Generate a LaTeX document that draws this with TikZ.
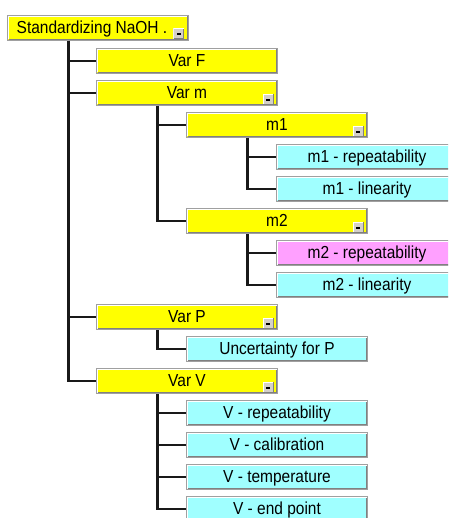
\documentclass[tikz,border=0pt]{standalone}
\usepackage{fontspec}
\setmainfont{Liberation Sans}[FakeStretch=0.89]
\usetikzlibrary{calc}

\definecolor{boxyellow}{RGB}{255,255,0}
\definecolor{boxcyan}{RGB}{160,255,255}
\definecolor{boxpink}{RGB}{255,160,255}
\definecolor{edgegray}{RGB}{160,160,160}
\definecolor{shadegray}{RGB}{128,128,128}
\definecolor{btnface}{RGB}{212,208,200}
\definecolor{linkcolor}{RGB}{25,25,25}

\begin{document}
\begin{tikzpicture}[x=1pt,y=-1pt,
  treebox/.style={draw=edgegray, line width=1pt, minimum width=181pt,
    minimum height=25pt, inner sep=0pt, text height=11pt, text depth=0pt,
    anchor=north west, font=\fontsize{17.4pt}{20pt}\selectfont,
    path picture={
      \draw[white, line width=1pt]
        ([shift={(1pt,1pt)}]path picture bounding box.south west) --
        ([shift={(1pt,-1pt)}]path picture bounding box.north west) --
        ([shift={(-1pt,-1pt)}]path picture bounding box.north east);
      \draw[shadegray, line width=1pt]
        ([shift={(1pt,1pt)}]path picture bounding box.south west) --
        ([shift={(-1pt,1pt)}]path picture bounding box.south east) --
        ([shift={(-1pt,-1pt)}]path picture bounding box.north east);
    }},
  groupbox/.style={treebox, fill=boxyellow},
  leafbox/.style={treebox, fill=boxcyan},
  markbox/.style={treebox, fill=boxpink},
  foldbtn/.style={minimum size=11pt, inner sep=0pt, fill=btnface,
    anchor=south east,
    path picture={
      \draw[white, line width=1pt]
        ([shift={(0.5pt,0.5pt)}]path picture bounding box.south west) --
        ([shift={(0.5pt,-0.5pt)}]path picture bounding box.north west) --
        ([shift={(-0.5pt,-0.5pt)}]path picture bounding box.north east);
      \draw[shadegray, line width=1pt]
        ([shift={(0.5pt,0.5pt)}]path picture bounding box.south west) --
        ([shift={(-0.5pt,0.5pt)}]path picture bounding box.south east) --
        ([shift={(-0.5pt,-0.5pt)}]path picture bounding box.north east);
      \fill[black]
        ([shift={(-2pt,-1.5pt)}]path picture bounding box.center) rectangle
        ([shift={(2pt,0.3pt)}]path picture bounding box.center);
    }},
  link/.style={draw=linkcolor, line width=2.2pt}
]
\useasboundingbox (0,0) rectangle (448,518);
\fill[white] (0,0) rectangle (448,518);
\clip (0,0) rectangle (448,518);

% tree nodes, top to bottom
\node[groupbox] (root) at (7,15) {\hspace*{-12pt}Standardizing NaOH .};
\node[groupbox] (varF) at (96,48) {Var F};
\node[groupbox] (varm) at (96,80) {Var m};
\node[groupbox] (m1) at (186,112) {m1};
\node[leafbox] (m1rep) at (276,144) {m1 - repeatability};
\node[leafbox] (m1lin) at (276,176) {m1 - linearity};
\node[groupbox] (m2) at (186,208) {m2};
\node[markbox] (m2rep) at (276,240) {m2 - repeatability};
\node[leafbox] (m2lin) at (276,272) {m2 - linearity};
\node[groupbox] (varP) at (96,304) {Var P};
\node[leafbox] (uncP) at (186,336) {Uncertainty for P};
\node[groupbox] (varV) at (96,368) {Var V};
\node[leafbox] (vrep) at (186,400) {V - repeatability};
\node[leafbox] (vcal) at (186,432) {V - calibration};
\node[leafbox] (vtemp) at (186,464) {V - temperature};
\node[leafbox] (vend) at (186,496) {V - end point};

% collapse buttons on the group boxes
\node[foldbtn] (rootbtn) at ($(root.south east)+(-4.5,-1.5)$) {};
\node[foldbtn] (varmbtn) at ($(varm.south east)+(-4,-1)$) {};
\node[foldbtn] (m1btn) at ($(m1.south east)+(-4,-1)$) {};
\node[foldbtn] (m2btn) at ($(m2.south east)+(-4,-1)$) {};
\node[foldbtn] (varPbtn) at ($(varP.south east)+(-4,-1)$) {};
\node[foldbtn] (varVbtn) at ($(varV.south east)+(-4,-1)$) {};

% connectors: parent trunk down, then across to the child
\foreach \parent/\child in {root/varF, root/varm, root/varP, root/varV,
    varm/m1, varm/m2, m1/m1rep, m1/m1lin, m2/m2rep, m2/m2lin,
    varP/uncP, varV/vrep, varV/vcal, varV/vtemp, varV/vend}
  \draw[link] ($(\parent.south west)+(61.5,0)$) |- (\child.west);
\end{tikzpicture}
\end{document}
